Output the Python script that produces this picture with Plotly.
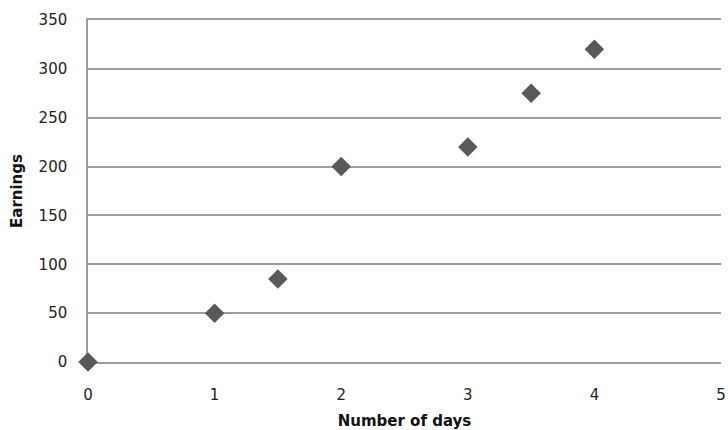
import plotly.graph_objects as go

# Days worked vs. earnings
days = [0, 1, 1.5, 2, 3, 3.5, 4]
earnings = [0, 50, 85, 200, 220, 275, 320]

x_ticks = [0, 1, 2, 3, 4, 5]
y_ticks = [0, 50, 100, 150, 200, 250, 300, 350]

grid_color = "#9c9c9c"
tick_font = dict(family="DejaVu Sans", size=15, color="#222222")
title_font = dict(family="DejaVu Sans", size=15, color="#111111")

fig = go.Figure()
fig.add_trace(go.Scatter(
    x=days, y=earnings, mode="markers",
    marker=dict(symbol="diamond", size=15, color="#595959",
                line=dict(width=0)),
    cliponaxis=False, showlegend=False,
))

fig.update_layout(
    width=728, height=430,
    margin=dict(l=88, r=7, t=20, b=68, autoexpand=False),
    paper_bgcolor="white", plot_bgcolor="white",
    xaxis=dict(
        range=[0, 5], tickvals=x_ticks, ticktext=[str(v) for v in x_ticks],
        showgrid=False, zeroline=False, automargin=False,
        # mirrored line supplies the top (350) gridline and the bottom baseline
        showline=True, mirror=True, linecolor=grid_color, linewidth=1.5,
        layer="below traces",
        ticks="", ticklabelstandoff=18, tickfont=tick_font,
        title=dict(text="<b>Number of days</b>", font=title_font, standoff=14),
    ),
    yaxis=dict(
        range=[0, 350], tickvals=y_ticks, ticktext=[str(v) for v in y_ticks],
        showgrid=True, gridcolor=grid_color, gridwidth=1.5,
        zeroline=True, zerolinecolor=grid_color, zerolinewidth=1.5,
        showline=True, linecolor=grid_color, linewidth=1.5, automargin=False,
        layer="below traces",
        ticks="", ticklabelstandoff=16, tickfont=tick_font,
        title=dict(text="<b>Earnings</b>", font=title_font, standoff=12),
    ),
)

fig.write_html("out.html")
